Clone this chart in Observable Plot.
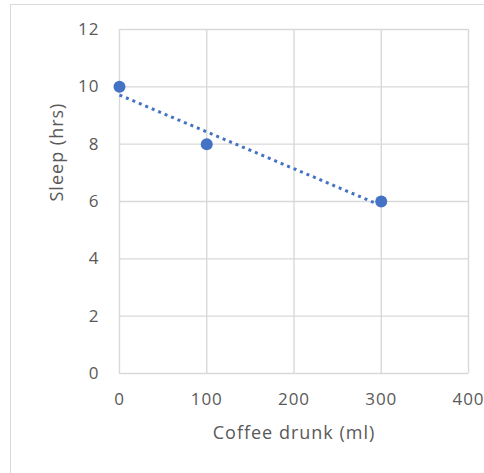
<!DOCTYPE html>
<html>
<head>
<meta charset="utf-8">
<script src="https://cdn.jsdelivr.net/npm/d3@7"></script>
<script src="https://cdn.jsdelivr.net/npm/@observablehq/plot@0.6"></script>
<style>
  html, body { margin: 0; padding: 0; background: #fff; overflow: hidden; }
  #wrap { position: relative; width: 484px; height: 473px; }
  #border { position: absolute; left: 10px; top: 4px; width: 490px; height: 490px; border: 1.5px solid #d9d9d9; box-sizing: border-box; }
  #chart { position: absolute; left: 0; top: 0; }
  #chart text { letter-spacing: 1px; }
</style>
</head>
<body>
<div id="wrap"><div id="border"></div><div id="chart"></div></div>
<script>
const coffee = [0, 100, 300];
const sleep = [10, 8, 6];
const xTicks = [0, 100, 200, 300, 400];
const yTicks = [0, 2, 4, 6, 8, 10, 12];
const xTitle = "Coffee drunk (ml)";
const yTitle = "Sleep (hrs)";

const data = coffee.map((c, i) => ({coffee: c, sleep: sleep[i]}));
const blue = "#4472C4";
const textColor = "#595959";

const chart = Plot.plot({
  width: 484,
  height: 473,
  marginLeft: 119,
  marginRight: 16,
  marginTop: 29,
  marginBottom: 100,
  style: {fontFamily: "'Open Sans', sans-serif", fontSize: "17px", color: textColor, background: "transparent"},
  x: {domain: [0, 400]},
  y: {domain: [0, 12]},
  marks: [
    Plot.gridX(xTicks, {stroke: "#d9d9d9", strokeOpacity: 1, strokeWidth: 1.4}),
    Plot.gridY(yTicks, {stroke: "#d9d9d9", strokeOpacity: 1, strokeWidth: 1.4}),
    Plot.axisX(xTicks, {tickSize: 0, tickPadding: 19, label: null, fill: textColor, fontSize: 17}),
    Plot.axisY(yTicks, {tickSize: 0, tickPadding: 20, label: null, fill: textColor, fontSize: 17}),
    Plot.text([xTitle], {frameAnchor: "bottom", dy: 65, text: d => d, fill: textColor, fontSize: 18}),
    Plot.text([yTitle], {frameAnchor: "left", dx: -62, rotate: -90, text: d => d, fill: textColor, fontSize: 18}),
    Plot.linearRegressionY(data, {x: "coffee", y: "sleep", ci: 0, stroke: blue, strokeWidth: 3, strokeDasharray: "3,4", strokeLinecap: "butt"}),
    Plot.dot(data, {x: "coffee", y: "sleep", r: 6, fill: blue, stroke: "none"})
  ]
});
document.getElementById("chart").append(chart);
</script>
</body>
</html>
